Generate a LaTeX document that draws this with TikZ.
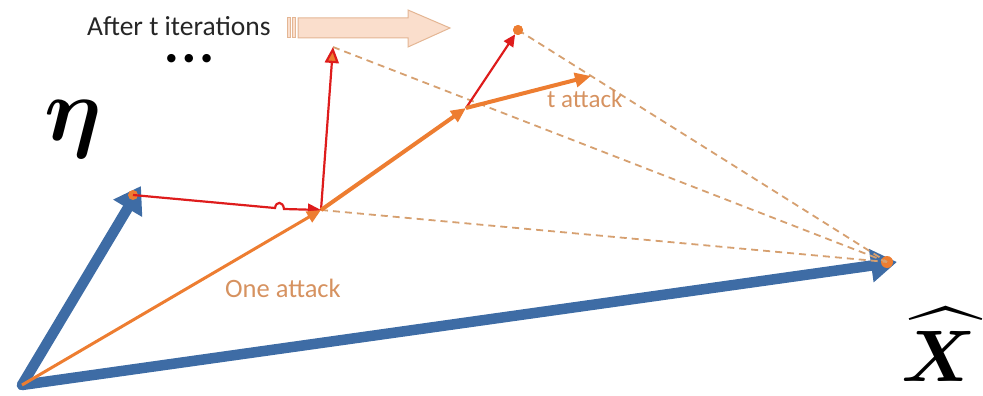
\documentclass[tikz,border=0pt]{standalone}
\usepackage{fontspec}
\setmainfont{Carlito}
\newfontfamily\dvsans{DejaVu Sans}
\usepackage{bm}
\usetikzlibrary{arrows.meta}
\definecolor{vblue}{RGB}{62,108,165}
\definecolor{vorange}{RGB}{237,125,49}
\definecolor{vred}{RGB}{222,28,28}
\definecolor{vdash}{RGB}{214,160,112}
\definecolor{vtext}{RGB}{214,146,96}
\definecolor{peach}{RGB}{250,222,204}
\definecolor{peachline}{RGB}{228,182,148}
\begin{document}
\begin{tikzpicture}[x=1pt,y=-1pt,
  bluevec/.style={draw=vblue, line width=10.5pt, line cap=round, -{Triangle[length=26pt,width=32pt]}},
  orvec/.style={draw=vorange, line width=#1},
  redvec/.style={draw=vred, line width=2.2pt},
  dashline/.style={draw=vdash, line width=1.8pt, dash pattern=on 7pt off 5pt},
  dotnode/.style={circle, fill=vorange, inner sep=0pt, minimum size=#1},
  lbl/.style={anchor=base west, inner sep=0pt},
  blockarrow/.style={fill=peach, draw=peachline, line width=1pt}
]
\useasboundingbox (0,0) rectangle (983,396);

% key points
\coordinate (O) at (22,385);
\coordinate (A) at (141,186);
\coordinate (Xh) at (897,262);
\coordinate (P1) at (321,210);
\coordinate (T1) at (333,47);
\coordinate (P2) at (466,108);
\coordinate (T3) at (591,76);

% block arrow "after t iterations"
\draw[blockarrow] (287,18) rectangle (290,38);
\draw[blockarrow] (292,18) rectangle (295,38);
\draw[blockarrow] (298,18) -- (408,18) -- (408,10) -- (450,28) -- (408,47) -- (408,38) -- (298,38) -- cycle;

% blue vectors
\draw[bluevec] (O) -- (A);
\draw[bluevec] (O) -- (Xh);

% dots at tips
\node[dotnode=10pt] (dA) at (133,195) {};
\node[dotnode=12pt] (dX) at (887,262) {};
\node[dotnode=10pt] (dT2) at (518,30) {};

% dashed lines
\draw[dashline] (T1) -- (dX.center);
\draw[dashline] (P1) -- (dX.center);
\draw[dashline] (dT2.center) -- (dX.center);

% red first step with hop
\draw[redvec, -{Triangle[length=13pt,width=12pt]}] (dA.center) -- (275,208) .. controls (276,201) and (283,201) .. (284,209) -- (P1);

% orange line from origin
\draw[orvec=3pt, -{Triangle[length=14pt,width=12pt]}] (O) -- (P1);

% red up
\draw[redvec, -{Triangle[length=16pt,width=14pt,fill=vorange]}] (P1) -- (T1);

% orange step
\draw[orvec=4pt, -{Triangle[length=15pt,width=13pt]}] (P1) -- (P2);

% red second
\draw[redvec, -{Triangle[length=12pt,width=11pt]}] (P2) -- (dT2);

% t attack arrow
\draw[orvec=4pt, -{Triangle[length=16pt,width=14pt]}] (P2) -- (T3);

\node[dotnode=10pt] at (dT2) {};

% texts
\node[lbl, text=black!85, font=\fontsize{27.5}{30}\selectfont] (iter) at (87,36) {After t iterations};
\node[anchor=center, inner sep=0pt, font=\dvsans\fontsize{11}{11}\selectfont] (dots) at (189,59) {●\hspace{8pt}●\hspace{8pt}●};
\node[lbl, text=vtext, font=\fontsize{26.5}{30}\selectfont] (one) at (225,297) {One attack};
\node[lbl, text=vtext, font=\fontsize{25}{30}\selectfont] (tatt) at (547,107) {t attack};
\node[lbl] (eta) at (44,140) {\scalebox{9}{$\bm{\eta}$}};
\node[lbl] (xhat) at (901,381) {\scalebox{7.3}{$\bm{\widehat{X}}$}};
\end{tikzpicture}
\end{document}
